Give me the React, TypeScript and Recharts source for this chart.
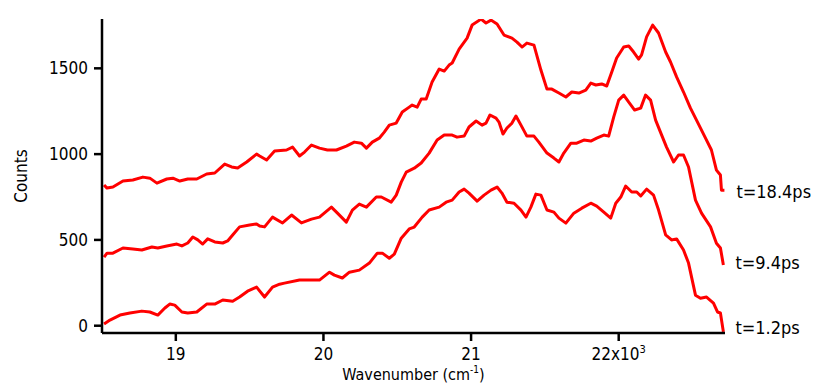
import { LineChart, Line, XAxis, YAxis, ReferenceDot } from 'recharts';

const FONT = '"Liberation Sans Narrow", "DejaVu Sans Condensed", "Liberation Sans", sans-serif';
const RED = '#ff0000';

// axis ticks (wavenumber in 10^3 cm^-1)
const xTicks = [19, 20, 21, 22];
const yTicks = [0, 500, 1000, 1500];

// curve names and the count level where each name sits (right of the curve end)
const seriesNames = ['t=1.2ps', 't=9.4ps', 't=18.4ps'];
const labelCounts = [-8, 370, 780];

// t=1.2ps  [wavenumber (x10^3), counts]
const spec1: [number, number][] = [
  [18.514, 10], [18.554, 33], [18.622, 62], [18.689, 74], [18.770, 85], [18.824, 80], [18.878, 62],
  [18.926, 103], [18.959, 126], [18.993, 120], [19.041, 80], [19.081, 74], [19.142, 80], [19.209, 126],
  [19.264, 126], [19.318, 150], [19.385, 143], [19.432, 167], [19.486, 201], [19.547, 225], [19.601, 167],
  [19.655, 225], [19.703, 242], [19.736, 248], [19.838, 266], [19.973, 266], [20.041, 312], [20.074, 295],
  [20.128, 278], [20.176, 312], [20.243, 324], [20.311, 365], [20.365, 423], [20.399, 423], [20.446, 393],
  [20.480, 417], [20.527, 510], [20.581, 564], [20.615, 575], [20.669, 633], [20.716, 674], [20.784, 691],
  [20.831, 720], [20.872, 732], [20.919, 779], [20.953, 796], [20.986, 773], [21.041, 726], [21.088, 761],
  [21.135, 790], [21.176, 808], [21.209, 773], [21.243, 720], [21.291, 714], [21.338, 674], [21.372, 633],
  [21.405, 691], [21.439, 767], [21.473, 761], [21.514, 674], [21.561, 662], [21.595, 627], [21.642, 598],
  [21.696, 656], [21.750, 685], [21.811, 714], [21.851, 697], [21.899, 662], [21.946, 627], [21.980, 714],
  [22.014, 750], [22.047, 814], [22.088, 779], [22.122, 779], [22.149, 756], [22.189, 796], [22.236, 761],
  [22.270, 674], [22.318, 529], [22.358, 500], [22.392, 506], [22.439, 441], [22.473, 365], [22.520, 178],
  [22.554, 160], [22.595, 167], [22.642, 132], [22.669, 80], [22.689, 74], [22.709, -36],
];

// t=9.4ps
const spec2: [number, number][] = [
  [18.514, 400], [18.534, 423], [18.574, 423], [18.642, 453], [18.709, 447], [18.770, 441], [18.838, 459],
  [18.878, 453], [18.939, 465], [19.007, 476], [19.041, 465], [19.081, 482], [19.115, 517], [19.149, 500],
  [19.182, 476], [19.216, 506], [19.264, 488], [19.318, 482], [19.351, 494], [19.385, 529], [19.432, 576],
  [19.500, 587], [19.547, 593], [19.568, 581], [19.601, 576], [19.655, 633], [19.723, 599], [19.784, 645],
  [19.851, 599], [19.919, 621], [19.973, 633], [20.054, 691], [20.095, 656], [20.155, 604], [20.196, 674],
  [20.243, 709], [20.291, 691], [20.358, 750], [20.392, 750], [20.459, 720], [20.493, 761], [20.527, 837],
  [20.561, 895], [20.615, 918], [20.662, 948], [20.716, 1006], [20.770, 1082], [20.818, 1111], [20.872, 1111],
  [20.905, 1099], [20.953, 1105], [20.986, 1158], [21.034, 1193], [21.074, 1169], [21.101, 1181], [21.128, 1228],
  [21.169, 1210], [21.189, 1187], [21.216, 1117], [21.243, 1152], [21.277, 1181], [21.304, 1222], [21.338, 1169],
  [21.378, 1105], [21.426, 1105], [21.459, 1070], [21.514, 1006], [21.561, 977], [21.595, 954], [21.628, 1006],
  [21.676, 1064], [21.716, 1064], [21.764, 1082], [21.811, 1076], [21.851, 1093], [21.899, 1111], [21.932, 1105],
  [21.966, 1216], [22.000, 1315], [22.034, 1344], [22.068, 1303], [22.108, 1257], [22.149, 1268], [22.182, 1344],
  [22.216, 1315], [22.250, 1198], [22.291, 1111], [22.324, 1041], [22.372, 954], [22.405, 995], [22.439, 995],
  [22.473, 925], [22.520, 732], [22.561, 656], [22.622, 576], [22.662, 481], [22.689, 453], [22.709, 354],
];

// t=18.4ps
const spec3: [number, number][] = [
  [18.514, 820], [18.534, 802], [18.574, 808], [18.642, 843], [18.709, 849], [18.777, 866], [18.824, 860],
  [18.872, 831], [18.939, 855], [18.980, 860], [19.027, 843], [19.081, 855], [19.142, 855], [19.209, 884],
  [19.264, 890], [19.331, 942], [19.378, 925], [19.419, 919], [19.480, 954], [19.547, 1000], [19.568, 989],
  [19.615, 966], [19.669, 1018], [19.750, 1024], [19.791, 1041], [19.838, 989], [19.872, 1012], [19.919, 1053],
  [19.973, 1035], [20.027, 1024], [20.088, 1024], [20.155, 1047], [20.209, 1070], [20.257, 1064], [20.291, 1035],
  [20.331, 1070], [20.378, 1093], [20.412, 1128], [20.446, 1169], [20.493, 1181], [20.534, 1245], [20.581, 1274],
  [20.601, 1286], [20.635, 1274], [20.662, 1321], [20.696, 1321], [20.736, 1420], [20.784, 1496], [20.818, 1484],
  [20.851, 1519], [20.872, 1531], [20.919, 1612], [20.973, 1676], [21.007, 1752], [21.068, 1787], [21.101, 1764],
  [21.135, 1781], [21.176, 1758], [21.223, 1694], [21.277, 1676], [21.311, 1653], [21.345, 1624], [21.378, 1647],
  [21.426, 1635], [21.473, 1490], [21.514, 1379], [21.547, 1379], [21.595, 1356], [21.642, 1333], [21.682, 1362],
  [21.730, 1356], [21.777, 1373], [21.811, 1414], [21.845, 1403], [21.885, 1409], [21.919, 1397], [21.953, 1479],
  [21.986, 1560], [22.034, 1624], [22.068, 1630], [22.101, 1595], [22.135, 1554], [22.155, 1578], [22.189, 1683],
  [22.230, 1752], [22.270, 1706], [22.318, 1595], [22.351, 1537], [22.392, 1450], [22.439, 1362], [22.486, 1268],
  [22.527, 1198], [22.588, 1093], [22.628, 1024], [22.662, 907], [22.689, 878], [22.696, 790], [22.716, 790],
];

const toPoints = (s: [number, number][]) => s.map(([x, y]) => ({ x, y }));
const series = [spec1, spec2, spec3].map(toPoints);

const XTick = (props: any) => {
  const { x, y, payload } = props;
  const v = payload.value;
  return (
    <text x={x} y={y} dy="0.71em" textAnchor="middle" fill="#000" fontSize={17} fontFamily={FONT}>
      {v === 22 ? (
        <>
          22x10<tspan dy={-7} fontSize={11}>3</tspan>
        </>
      ) : (
        v
      )}
    </text>
  );
};

const XLabel = (props: any) => {
  const { x, width, y } = props.viewBox;
  return (
    <text x={x + width / 2} y={y + 47} textAnchor="middle" fill="#000" fontSize={16} fontFamily={FONT}>
      Wavenumber (cm<tspan dy={-7} fontSize={10}>-1</tspan><tspan dy={7}>)</tspan>
    </text>
  );
};

const YLabel = (props: any) => {
  const { x, y, height } = props.viewBox;
  const cx = x + 27;
  const cy = y + height / 2;
  return (
    <text
      x={cx}
      y={cy}
      transform={`rotate(-90 ${cx} ${cy})`}
      textAnchor="middle"
      fill="#000"
      fontSize={17}
      fontFamily={FONT}
    >
      Counts
    </text>
  );
};

const nameShape = (name: string) => (props: any) => (
  <text
    x={props.cx + 12}
    y={props.cy}
    dominantBaseline="central"
    fill="#000"
    fontSize={18}
    fontFamily={FONT}
  >
    {name}
  </text>
);

export default function App() {
  return (
    <div style={{ position: 'absolute', left: 0, top: 0, width: 825, height: 385, background: '#fff' }}>
      <LineChart width={825} height={385} margin={{ top: 19, right: 100, bottom: 0, left: 0 }}>
        <XAxis
          type="number"
          dataKey="x"
          domain={[18.5, 22.72]}
          allowDataOverflow
          ticks={xTicks}
          height={52}
          tickSize={8}
          tickMargin={7}
          tick={<XTick />}
          stroke="#000"
          strokeWidth={2.5}
          label={{ content: <XLabel /> }}
        />
        <YAxis
          type="number"
          dataKey="y"
          domain={[-42.5, 1787.5]}
          allowDataOverflow
          ticks={yTicks}
          width={102}
          tickSize={8}
          tickMargin={6}
          tick={{ fill: '#000', fontSize: 17, fontFamily: FONT }}
          stroke="#000"
          strokeWidth={2.5}
          label={{ content: <YLabel /> }}
        />
        {series.map((pts, i) => (
          <Line
            key={seriesNames[i]}
            data={pts}
            dataKey="y"
            type="linear"
            stroke={RED}
            strokeWidth={3}
            strokeLinejoin="round"
            dot={false}
            isAnimationActive={false}
          />
        ))}
        {series.map((pts, i) => (
          <ReferenceDot
            key={'lbl' + i}
            x={pts[pts.length - 1].x}
            y={labelCounts[i]}
            r={0}
            ifOverflow="visible"
            shape={nameShape(seriesNames[i])}
          />
        ))}
      </LineChart>
    </div>
  );
}
